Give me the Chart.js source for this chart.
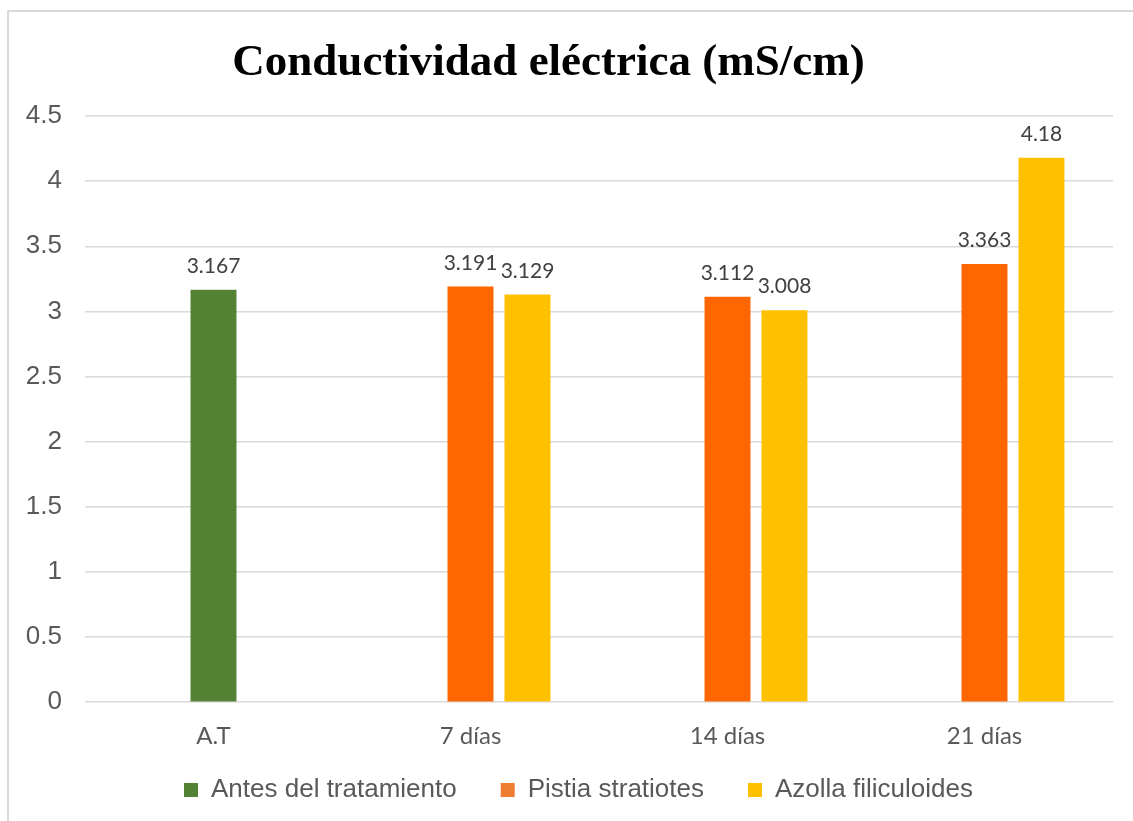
<!DOCTYPE html>
<html lang="es">
<head>
<meta charset="utf-8">
<title>Conductividad eléctrica</title>
<script src="https://cdn.jsdelivr.net/npm/chart.js@4.4.1/dist/chart.umd.min.js"></script>
<style>
    html, body { margin: 0; padding: 0; background: #ffffff; overflow: hidden; }
    #frame {
        position: absolute; left: 7px; top: 10px;
        width: 2000px; height: 2000px;
        border: 2px solid #d9d9d9;
    }
    #wrap { position: absolute; left: 0; top: 0; width: 1133px; height: 821px; }
</style>
</head>
<body>
<div id="frame"></div>
<div id="wrap"><canvas id="ecChart" width="1133" height="821"></canvas></div>
<script>
// Categories and measured values (mS/cm)
const categories = ['A.T', '7 días', '14 días', '21 días'];
const antesValues = [3.167, null, null, null];
const pistiaValues = [null, 3.191, 3.112, 3.363];
const azollaValues = [null, 3.129, 3.008, 4.18];
const yTicks = [0, 0.5, 1, 1.5, 2, 2.5, 3, 3.5, 4, 4.5];

const seriesNames = ['Antes del tratamiento', 'Pistia stratiotes', 'Azolla filiculoides'];
const barColors = ['#548235', '#FF6600', '#FFC000'];
const legendColors = ['#548235', '#ED7D31', '#FFC000'];

// Value labels above each bar
const barLabels = {
    id: 'barLabels',
    afterDatasetsDraw(chart) {
        const ctx = chart.ctx;
        ctx.save();
        ctx.font = '21px Lato';
        ctx.fillStyle = '#404040';
        ctx.textAlign = 'center';
        ctx.textBaseline = 'alphabetic';
        chart.data.datasets.forEach((ds, i) => {
            if (ds.spacer) return;
            const meta = chart.getDatasetMeta(i);
            meta.data.forEach((bar, j) => {
                const v = ds.data[j];
                if (v === null || v === undefined) return;
                ctx.fillText(String(v), bar.x, bar.y - 17);
            });
        });
        ctx.restore();
    }
};

// Nudge title and legend into place after layout
const boxShift = {
    id: 'boxShift',
    afterLayout(chart) {
        const t = chart.titleBlock;
        if (t) { t.left -= 8; t.right -= 8; }
        const l = chart.legend;
        if (l) {
            l.left += 22; l.right += 22;
            l.top -= 30; // keep bottom so the clip box still holds the labels
        }
    }
};

const ctx = document.getElementById('ecChart').getContext('2d');

new Chart(ctx, {
    type: 'bar',
    data: {
        labels: categories,
        datasets: [
            // empty left slot so the green and orange bars sit in the middle
            { label: '', data: [null, null, null, null], stack: 's0', spacer: true, backgroundColor: 'rgba(0,0,0,0)' },
            { label: seriesNames[0], data: antesValues, stack: 's1', backgroundColor: barColors[0] },
            { label: seriesNames[1], data: pistiaValues, stack: 's1', backgroundColor: barColors[1] },
            { label: seriesNames[2], data: azollaValues, stack: 's2', backgroundColor: barColors[2] }
        ]
    },
    options: {
        responsive: false,
        animation: false,
        categoryPercentage: 0.665,
        barPercentage: 0.807,
        layout: { padding: { left: 0, right: 20, top: 0, bottom: 4 } },
        plugins: {
            title: {
                display: true,
                text: 'Conductividad eléctrica (mS/cm)',
                color: '#000000',
                font: { family: '"Liberation Serif", "Times New Roman", serif', size: 45, weight: 'bold' },
                padding: { top: 36, bottom: 26 }
            },
            legend: {
                position: 'bottom',
                maxHeight: 54,
                labels: {
                    color: '#595959',
                    font: { family: '"Liberation Sans", Arial, sans-serif', size: 26 },
                    boxWidth: 14,
                    boxHeight: 14,
                    padding: 44,
                    filter: (item) => item.datasetIndex !== 0,
                    generateLabels(chart) {
                        const items = Chart.defaults.plugins.legend.labels.generateLabels(chart);
                        items.forEach(it => {
                            if (it.datasetIndex > 0) {
                                it.fillStyle = legendColors[it.datasetIndex - 1];
                                it.strokeStyle = legendColors[it.datasetIndex - 1];
                                it.lineWidth = 0;
                            }
                        });
                        return items;
                    }
                }
            },
            tooltip: { enabled: false }
        },
        scales: {
            x: {
                grid: { display: false },
                border: { display: false },
                ticks: {
                    color: '#595959',
                    font: { family: 'Lato', size: 24 },
                    padding: 12
                }
            },
            y: {
                stacked: false,
                min: 0,
                max: 4.5,
                afterBuildTicks(axis) {
                    axis.ticks = yTicks.map(v => ({ value: v }));
                },
                afterFit(axis) { axis.width = 85; },
                grid: { color: '#d9d9d9', lineWidth: 1.5, drawTicks: false },
                border: { display: false },
                ticks: {
                    color: '#595959',
                    font: { family: '"Liberation Sans", Arial, sans-serif', size: 26 },
                    padding: 23,
                    callback: (v) => String(v)
                }
            }
        }
    },
    plugins: [barLabels, boxShift]
});
</script>
</body>
</html>
